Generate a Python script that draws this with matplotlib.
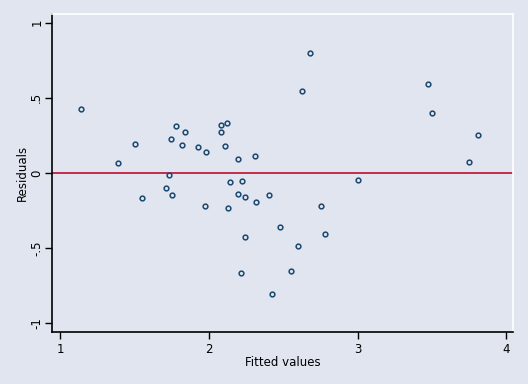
import matplotlib
matplotlib.use("Agg")
import matplotlib.pyplot as plt

# fitted values and residuals
fitted = [1.139, 1.388, 1.502, 1.549, 1.708, 1.728, 1.748, 1.741, 1.775, 1.818,
          1.839, 1.924, 1.970, 1.983, 2.081, 2.083, 2.108, 2.118, 2.125, 2.139,
          2.197, 2.193, 2.224, 2.244, 2.240, 2.217, 2.313, 2.306, 2.400, 2.479,
          2.424, 2.549, 2.601, 2.623, 2.677, 2.751, 2.778, 3.000, 3.475, 3.498,
          3.746, 3.806]
resid = [0.426, 0.066, 0.193, -0.168, -0.102, -0.011, -0.148, 0.224, 0.313, 0.186,
         0.271, 0.171, -0.219, 0.142, 0.317, 0.271, 0.182, 0.330, -0.231, -0.060,
         0.095, -0.138, -0.051, -0.158, -0.424, -0.667, -0.191, 0.111, -0.148, -0.361,
         -0.803, -0.652, -0.485, 0.543, 0.796, -0.217, -0.408, -0.047, 0.590, 0.401,
         0.071, 0.255]

xticks = [1, 2, 3, 4]
yticks = [-1, -0.5, 0, 0.5, 1]
ytick_labels = ["-1", "-.5", "0", ".5", "1"]

BG = "#e1e5ef"
NAVY = "#1a476f"

fig = plt.figure(figsize=(5.28, 3.84), dpi=100, facecolor=BG)
ax = fig.add_axes([0.099, 0.1354, 0.8726, 0.8274], facecolor=BG)

ax.axhline(0, color="#bf1e3c", lw=1.3, zorder=1)
ax.plot(fitted, resid, linestyle="none", marker="o", markersize=3.4,
        markerfacecolor="none", markeredgecolor=NAVY, markeredgewidth=1.1, zorder=2)

ax.set_xlim(0.946, 4.044)
ax.set_ylim(-1.057, 1.055)
ax.set_xticks(xticks)
ax.set_yticks(yticks)
ax.set_yticklabels(ytick_labels, rotation=90, va="center")

for s in ["top", "right"]:
    ax.spines[s].set_color("white")
    ax.spines[s].set_linewidth(1.2)
for s in ["left", "bottom"]:
    ax.spines[s].set_color("black")
    ax.spines[s].set_linewidth(1.2)

ax.tick_params(axis="x", length=5, width=1, color="black", labelsize=8.5, pad=3)
ax.tick_params(axis="y", length=5, width=1, color="black", labelsize=8.5, pad=1.5)
ax.set_xlabel("Fitted values", fontsize=8.5, labelpad=0)
ax.set_ylabel("Residuals", fontsize=8.5, labelpad=1)

fig.savefig("out.png", dpi=100, facecolor=BG)
